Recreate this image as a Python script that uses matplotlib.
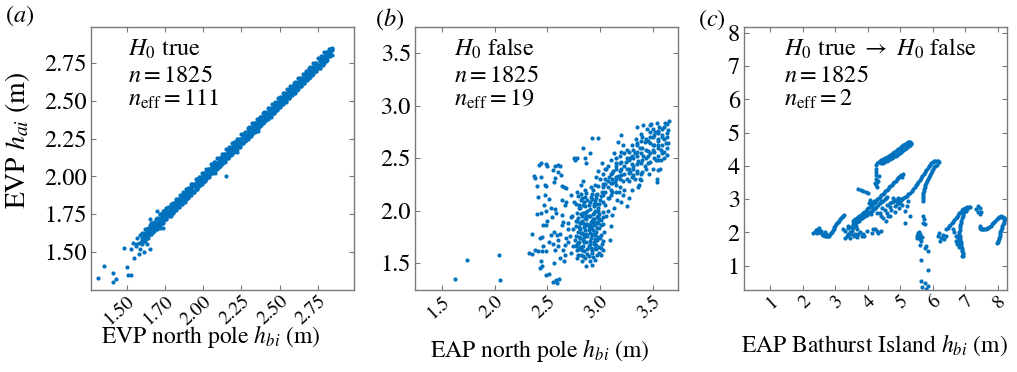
import numpy as np
import matplotlib
matplotlib.use("Agg")
import matplotlib.pyplot as plt

# ---------------- data ----------------
# Panel (a): EVP north pole h_bi vs EVP h_ai -- scattered points and outliers
a_hbi = [
    1.54, 1.56, 1.57, 1.58, 1.59, 1.60, 1.60, 1.61, 1.62, 1.62,
    1.63, 1.64, 1.64, 1.65, 1.66, 1.66, 1.67, 1.68, 1.68, 1.69,
    1.70, 1.70, 1.71, 1.72, 1.72, 1.73, 1.74, 1.74, 1.75, 1.76,
    1.76, 1.77, 1.78, 1.78, 1.79, 1.80, 1.80, 1.81, 1.82, 1.82,
    1.83, 1.84, 1.84, 1.85, 1.86, 1.86, 1.87, 1.88, 1.88, 1.89,
    1.90, 1.90, 1.91, 1.92, 1.92, 1.93, 1.94, 1.94, 1.95, 1.96,
    1.96, 1.97, 1.98, 1.98, 1.99, 2.00, 2.00, 2.01, 2.02, 2.02,
    2.03, 2.04, 2.04, 2.05, 2.06, 2.06, 2.07, 2.08, 2.08, 2.09,
    2.10, 2.10, 2.11, 2.12, 2.12, 2.13, 2.14, 2.14, 2.15, 2.16,
    2.16, 2.17, 2.18, 2.18, 2.19, 2.20, 2.20, 2.21, 2.22, 2.22,
    2.23, 2.24, 2.24, 2.25, 2.26, 2.26, 2.27, 2.28, 2.28, 2.29,
    2.30, 2.30, 2.31, 2.32, 2.32, 2.33, 2.34, 2.34, 2.35, 2.36,
    2.36, 2.37, 2.38, 2.38, 2.39, 2.40, 2.40, 2.41, 2.42, 2.42,
    2.43, 2.44, 2.44, 2.45, 2.46, 2.46, 2.47, 2.48, 2.48, 2.49,
    2.50, 2.50, 2.51, 2.52, 2.52, 2.53, 2.54, 2.54, 2.55, 2.56,
    2.56, 2.57, 2.58, 2.58, 2.59, 2.60, 2.60, 2.61, 2.62, 2.62,
    2.63, 2.64, 2.64, 2.65, 2.66, 2.66, 2.67, 2.68, 2.68, 2.69,
    2.70, 2.70, 2.71, 2.72, 2.72, 2.73, 2.74, 2.74, 2.75, 2.76,
    2.76, 2.77, 2.78, 2.78, 2.79, 2.80, 2.80, 2.81, 2.82, 2.83,
    2.84, 2.83, 1.65, 1.70, 1.72, 1.79, 1.88, 2.22, 2.36, 2.60,
    1.31, 1.35, 1.41, 1.41, 1.43, 1.48, 1.50, 1.51, 1.53, 1.55,
    1.53, 1.59, 1.61, 1.65, 1.56, 1.74, 2.15, 2.08, 1.58, 1.63,
]
a_hai = [
    1.56, 1.55, 1.59, 1.56, 1.61, 1.58, 1.55, 1.62, 1.60, 1.57,
    1.63, 1.61, 1.66, 1.64, 1.62, 1.69, 1.66, 1.64, 1.70, 1.67,
    1.65, 1.72, 1.70, 1.68, 1.75, 1.72, 1.70, 1.77, 1.74, 1.72,
    1.79, 1.76, 1.74, 1.80, 1.78, 1.76, 1.82, 1.80, 1.78, 1.84,
    1.82, 1.80, 1.85, 1.83, 1.82, 1.87, 1.85, 1.84, 1.89, 1.87,
    1.86, 1.91, 1.89, 1.88, 1.93, 1.91, 1.90, 1.95, 1.93, 1.92,
    1.97, 1.95, 1.94, 1.99, 1.97, 1.96, 2.01, 1.99, 1.98, 2.03,
    2.01, 2.00, 2.05, 2.03, 2.02, 2.07, 2.05, 2.04, 2.09, 2.07,
    2.06, 2.11, 2.09, 2.08, 2.13, 2.11, 2.10, 2.15, 2.13, 2.12,
    2.17, 2.15, 2.14, 2.19, 2.17, 2.16, 2.21, 2.19, 2.18, 2.23,
    2.21, 2.20, 2.25, 2.23, 2.22, 2.27, 2.25, 2.24, 2.29, 2.27,
    2.26, 2.31, 2.29, 2.28, 2.33, 2.31, 2.30, 2.35, 2.33, 2.32,
    2.37, 2.35, 2.34, 2.39, 2.37, 2.36, 2.40, 2.39, 2.38, 2.42,
    2.41, 2.40, 2.44, 2.43, 2.42, 2.46, 2.45, 2.44, 2.48, 2.47,
    2.46, 2.50, 2.49, 2.48, 2.52, 2.51, 2.50, 2.54, 2.53, 2.52,
    2.56, 2.55, 2.54, 2.58, 2.57, 2.56, 2.60, 2.59, 2.58, 2.62,
    2.61, 2.60, 2.64, 2.63, 2.62, 2.66, 2.65, 2.64, 2.68, 2.67,
    2.66, 2.70, 2.69, 2.68, 2.72, 2.71, 2.70, 2.74, 2.73, 2.72,
    2.76, 2.75, 2.74, 2.78, 2.77, 2.76, 2.80, 2.79, 2.80, 2.82,
    2.84, 2.84, 1.72, 1.77, 1.66, 1.74, 1.83, 2.16, 2.30, 2.55,
    1.33, 1.41, 1.36, 1.30, 1.32, 1.53, 1.40, 1.35, 1.35, 1.46,
    1.52, 1.52, 1.50, 1.52, 1.54, 1.66, 2.00, 2.02, 1.49, 1.55,
]

# Panel (a): dense band -- h_bi positions and the upper / middle / lower edge h_ai read there
a_band_hbi = [
    1.60, 1.61, 1.62, 1.63, 1.64, 1.65, 1.66, 1.67, 1.68, 1.69,
    1.70, 1.71, 1.72, 1.73, 1.74, 1.75, 1.76, 1.77, 1.78, 1.79,
    1.80, 1.81, 1.82, 1.83, 1.84, 1.85, 1.86, 1.87, 1.88, 1.89,
    1.90, 1.91, 1.92, 1.93, 1.94, 1.95, 1.96, 1.97, 1.98, 1.99,
    2.00, 2.01, 2.02, 2.03, 2.04, 2.05, 2.06, 2.07, 2.08, 2.09,
    2.10, 2.11, 2.12, 2.13, 2.14, 2.15, 2.16, 2.17, 2.18, 2.19,
    2.20, 2.21, 2.22, 2.23, 2.24, 2.25, 2.26, 2.27, 2.28, 2.29,
    2.30, 2.31, 2.32, 2.33, 2.34, 2.35, 2.36, 2.37, 2.38, 2.39,
    2.40, 2.41, 2.42, 2.43, 2.44, 2.45, 2.46, 2.47, 2.48, 2.49,
    2.50, 2.51, 2.52, 2.53, 2.54, 2.55, 2.56, 2.57, 2.58, 2.59,
    2.60, 2.61, 2.62, 2.63, 2.64, 2.65, 2.66, 2.67, 2.68, 2.69,
    2.70, 2.71, 2.72, 2.73, 2.74, 2.75, 2.76, 2.77, 2.78, 2.79,
    2.80, 2.81, 2.82, 2.83, 2.84,
]
a_band_upper = [
    1.625, 1.625, 1.650, 1.650, 1.650, 1.680, 1.680, 1.695, 1.695, 1.720,
    1.725, 1.725, 1.750, 1.750, 1.750, 1.780, 1.780, 1.795, 1.795, 1.820,
    1.825, 1.825, 1.850, 1.850, 1.850, 1.880, 1.880, 1.895, 1.895, 1.920,
    1.925, 1.925, 1.950, 1.950, 1.950, 1.980, 1.980, 1.995, 1.995, 2.020,
    2.025, 2.025, 2.050, 2.050, 2.050, 2.080, 2.080, 2.095, 2.095, 2.120,
    2.125, 2.125, 2.150, 2.150, 2.150, 2.180, 2.180, 2.195, 2.195, 2.220,
    2.225, 2.225, 2.250, 2.250, 2.250, 2.280, 2.280, 2.295, 2.295, 2.320,
    2.325, 2.325, 2.350, 2.350, 2.350, 2.380, 2.380, 2.395, 2.395, 2.420,
    2.425, 2.425, 2.450, 2.450, 2.450, 2.480, 2.480, 2.495, 2.495, 2.520,
    2.525, 2.525, 2.550, 2.550, 2.550, 2.580, 2.580, 2.595, 2.595, 2.620,
    2.625, 2.625, 2.650, 2.650, 2.650, 2.680, 2.680, 2.695, 2.695, 2.720,
    2.725, 2.725, 2.750, 2.750, 2.750, 2.780, 2.780, 2.795, 2.795, 2.820,
    2.825, 2.825, 2.840, 2.845, 2.850,
]
a_band_mid = [
    1.595, 1.610, 1.610, 1.635, 1.635, 1.640, 1.660, 1.665, 1.685, 1.680,
    1.695, 1.710, 1.710, 1.735, 1.735, 1.740, 1.760, 1.765, 1.785, 1.780,
    1.795, 1.810, 1.810, 1.835, 1.835, 1.840, 1.860, 1.865, 1.885, 1.880,
    1.895, 1.910, 1.910, 1.935, 1.935, 1.940, 1.960, 1.965, 1.985, 1.980,
    1.995, 2.010, 2.010, 2.035, 2.035, 2.040, 2.060, 2.065, 2.085, 2.080,
    2.095, 2.110, 2.110, 2.135, 2.135, 2.140, 2.160, 2.165, 2.185, 2.180,
    2.195, 2.210, 2.210, 2.235, 2.235, 2.240, 2.260, 2.265, 2.285, 2.280,
    2.295, 2.310, 2.310, 2.335, 2.335, 2.340, 2.360, 2.365, 2.385, 2.380,
    2.395, 2.410, 2.410, 2.435, 2.435, 2.440, 2.460, 2.465, 2.485, 2.480,
    2.495, 2.510, 2.510, 2.535, 2.535, 2.540, 2.560, 2.565, 2.585, 2.580,
    2.595, 2.610, 2.610, 2.635, 2.635, 2.640, 2.660, 2.665, 2.685, 2.680,
    2.695, 2.710, 2.710, 2.735, 2.735, 2.740, 2.760, 2.765, 2.785, 2.780,
    2.795, 2.810, 2.810, 2.830, 2.835,
]
a_band_lower = [
    1.570, 1.570, 1.595, 1.595, 1.595, 1.620, 1.620, 1.635, 1.655, 1.650,
    1.670, 1.670, 1.695, 1.695, 1.695, 1.720, 1.720, 1.735, 1.755, 1.750,
    1.770, 1.770, 1.795, 1.795, 1.795, 1.820, 1.820, 1.835, 1.855, 1.850,
    1.870, 1.870, 1.895, 1.895, 1.895, 1.920, 1.920, 1.935, 1.955, 1.950,
    1.970, 1.970, 1.995, 1.995, 1.995, 2.020, 2.020, 2.035, 2.055, 2.050,
    2.070, 2.070, 2.095, 2.095, 2.095, 2.120, 2.120, 2.135, 2.155, 2.150,
    2.170, 2.170, 2.195, 2.195, 2.195, 2.220, 2.220, 2.235, 2.255, 2.250,
    2.270, 2.270, 2.295, 2.295, 2.295, 2.320, 2.320, 2.335, 2.355, 2.350,
    2.370, 2.370, 2.395, 2.395, 2.395, 2.420, 2.420, 2.435, 2.455, 2.450,
    2.470, 2.470, 2.495, 2.495, 2.495, 2.520, 2.520, 2.535, 2.555, 2.550,
    2.570, 2.570, 2.595, 2.595, 2.595, 2.620, 2.620, 2.635, 2.655, 2.650,
    2.670, 2.670, 2.695, 2.695, 2.695, 2.720, 2.720, 2.735, 2.755, 2.750,
    2.770, 2.770, 2.795, 2.795, 2.800,
]

# Panel (b): EAP north pole h_bi vs EVP h_ai
b_hbi = [
    1.63, 1.74, 2.04, 2.05,
    2.37, 2.38, 2.42, 2.44, 2.49, 2.50, 2.55, 2.57, 2.60, 2.62,
    2.63, 2.60, 2.57, 2.56, 2.49, 2.48, 2.44, 2.64, 2.66, 2.68,
    2.75, 2.48, 2.47, 2.49, 2.53, 2.54, 2.57, 2.44, 2.46, 2.49,
    2.35, 2.43, 2.45, 2.53, 2.56, 2.59, 2.60, 2.64, 2.65, 2.64,
    2.67, 2.68, 2.72, 2.35, 2.38, 2.41, 2.45, 2.49, 2.44, 2.43,
    2.49, 2.52, 2.56, 2.55, 2.58, 2.61, 2.57, 2.60, 2.65, 2.67,
    2.70, 2.67, 2.62, 2.59, 2.40, 2.41, 2.40, 2.33, 2.45, 2.52,
    2.78, 2.80, 2.82, 2.84, 2.85, 2.86, 2.88, 2.90, 2.92, 2.94,
    2.95, 2.97, 2.99, 3.00, 3.02, 2.79, 2.81, 2.83, 2.85, 2.87,
    2.89, 2.91, 2.93, 2.95, 2.97, 2.99, 3.01, 3.03, 2.80, 2.82,
    2.84, 2.86, 2.88, 2.90, 2.92, 2.94, 2.96, 2.98, 3.00, 3.02,
    2.76, 2.77, 2.78, 2.87, 2.89, 2.93, 2.96, 3.04, 2.88, 2.92,
    2.86, 2.94, 2.90, 2.84, 2.81, 2.98, 3.05, 3.06, 2.72, 2.74,
    2.73, 2.75, 2.71, 2.70, 2.96, 3.01, 2.91, 2.86, 2.95, 3.08,
    2.83, 2.90, 2.95, 3.03, 3.09, 3.10, 2.92, 2.87,
    3.05, 3.08, 3.10, 3.12, 3.14, 3.15, 3.17, 3.19, 3.20, 3.22,
    3.24, 3.25, 3.27, 3.28, 3.30, 3.31, 3.33, 3.34, 3.36, 3.38,
    3.39, 3.41, 3.42, 3.44, 3.45, 3.47, 3.48, 3.50, 3.52, 3.53,
    3.55, 3.56, 3.58, 3.59, 3.61, 3.62, 3.64, 3.65, 3.60, 3.57,
    3.54, 3.50, 3.46, 3.42, 3.38, 3.36, 3.33, 3.30, 3.27, 3.25,
    3.22, 3.20, 3.18, 3.16, 3.13, 3.11, 3.07, 3.06, 3.10, 3.13,
    3.17, 3.20, 3.22, 3.00, 2.98, 3.02, 2.96, 2.86, 2.90, 2.87,
    2.78, 2.76, 2.84, 2.82, 2.92, 2.98, 2.84, 3.35, 3.41, 3.47,
    3.54, 3.64, 3.63, 3.58, 3.55, 3.54, 3.40, 3.39, 3.37, 3.28,
]
b_hai = [
    1.35, 1.53, 1.58, 1.34,
    2.33, 2.31, 2.43, 2.45, 2.44, 2.42, 2.39, 2.42, 2.43, 2.42,
    2.34, 2.37, 2.31, 2.27, 2.23, 2.24, 2.32, 2.23, 2.22, 2.21,
    2.50, 2.15, 2.05, 2.00, 2.02, 1.94, 2.01, 1.98, 1.86, 1.86,
    1.78, 1.74, 1.75, 1.77, 1.80, 1.77, 1.72, 1.86, 1.89, 1.96,
    2.05, 2.08, 2.15, 1.59, 1.62, 1.61, 1.61, 1.61, 1.52, 1.45,
    1.39, 1.40, 1.50, 1.32, 1.34, 1.35, 1.62, 1.66, 1.62, 1.67,
    1.70, 1.58, 1.55, 1.31, 2.23, 2.13, 1.97, 1.60, 1.47, 2.11,
    1.62, 1.70, 1.58, 1.66, 1.75, 1.55, 1.63, 1.71, 1.60, 1.68,
    1.77, 1.58, 1.65, 1.74, 1.68, 1.80, 1.88, 1.95, 1.84, 1.92,
    1.81, 1.89, 1.97, 1.86, 1.94, 1.83, 1.91, 1.99, 2.02, 2.10,
    2.05, 2.13, 2.00, 2.08, 2.16, 2.04, 2.12, 2.02, 2.10, 2.18,
    1.72, 1.90, 1.98, 1.70, 1.57, 1.78, 1.72, 1.80, 1.87, 1.85,
    1.98, 1.92, 1.95, 1.78, 1.65, 1.88, 2.05, 1.95, 1.60, 1.82,
    1.95, 2.08, 1.76, 1.88, 1.63, 1.58, 2.22, 2.20, 2.24, 2.12,
    1.52, 1.52, 1.53, 1.71, 1.72, 1.85, 1.48, 1.47,
    2.25, 2.32, 2.20, 2.38, 2.27, 2.45, 2.33, 2.52, 2.40, 2.28,
    2.46, 2.58, 2.36, 2.50, 2.62, 2.42, 2.55, 2.68, 2.47, 2.60,
    2.73, 2.52, 2.65, 2.78, 2.57, 2.70, 2.82, 2.62, 2.75, 2.48,
    2.68, 2.80, 2.58, 2.72, 2.83, 2.64, 2.77, 2.85, 2.50, 2.40,
    2.30, 2.40, 2.35, 2.42, 2.30, 2.22, 2.30, 2.20, 2.12, 2.04,
    2.15, 2.08, 2.18, 2.10, 2.02, 1.96, 2.00, 2.40, 2.48, 2.55,
    2.65, 2.72, 2.62, 2.30, 2.38, 2.45, 2.32, 2.50, 2.55, 2.45,
    2.50, 2.48, 2.28, 2.24, 2.69, 2.69, 2.60, 2.80, 2.81, 2.81,
    2.83, 2.64, 2.53, 2.48, 2.39, 2.27, 2.37, 2.29, 2.24, 2.37,
]
# Panel (b): extra points of the dense core, the rising band and the sparse left cloud
b_core_hbi = [
    2.77, 2.79, 2.81, 2.83, 2.85, 2.87, 2.89, 2.91, 2.93, 2.95, 2.97, 2.99, 3.01, 3.03,
    2.77, 2.79, 2.81, 2.83, 2.85, 2.87, 2.89, 2.91, 2.93, 2.95, 2.97, 2.99, 3.01, 3.03,
    2.77, 2.79, 2.81, 2.83, 2.85, 2.87, 2.89, 2.91, 2.93, 2.95, 2.97, 2.99, 3.01, 3.03,
    2.77, 2.79, 2.81, 2.83, 2.85, 2.87, 2.89, 2.91, 2.93, 2.95, 2.97, 2.99, 3.01, 3.03,
    3.03, 3.07, 3.11, 3.15, 3.19, 3.23, 3.27, 3.31, 3.35, 3.39, 3.43, 3.47, 3.51, 3.55, 3.59, 3.63,
    3.03, 3.07, 3.11, 3.15, 3.19, 3.23, 3.27, 3.31, 3.35, 3.39, 3.43, 3.47, 3.51, 3.55, 3.59, 3.63,
    3.03, 3.07, 3.11, 3.15, 3.19, 3.23, 3.27, 3.31, 3.35, 3.39, 3.43, 3.47, 3.51, 3.55, 3.59, 3.63,
    3.03, 3.07, 3.11, 3.15, 3.19, 3.23, 3.27, 3.31, 3.35, 3.39, 3.43, 3.47, 3.51, 3.55, 3.59, 3.63,
    2.78, 2.80, 2.82, 2.84, 2.86, 2.88, 2.90, 2.92, 2.94, 2.96, 2.98,
    2.78, 2.80, 2.82, 2.84, 2.86, 2.88, 2.90, 2.92, 2.94, 2.96, 2.98,
    2.78, 2.80, 2.82, 2.84, 2.86, 2.88, 2.90, 2.92, 2.94, 2.96, 2.98,
    2.78, 2.80, 2.82, 2.84, 2.86, 2.88, 2.90, 2.92, 2.94, 2.96, 2.98,
    3.05, 3.10, 3.15, 3.20, 3.25, 3.30, 3.35, 3.40, 3.45, 3.50, 3.55, 3.60,
    3.05, 3.10, 3.15, 3.20, 3.25, 3.30, 3.35, 3.40, 3.45, 3.50, 3.55, 3.60,
    3.05, 3.10, 3.15, 3.20, 3.25, 3.30, 3.35, 3.40, 3.45, 3.50, 3.55, 3.60,
    2.50, 2.55, 2.62, 2.66, 2.70, 2.58, 2.52, 2.46, 2.64, 2.72, 2.68, 2.74,
]
b_core_hai = [
    1.66, 1.58, 1.74, 1.62, 1.70, 1.78, 1.66, 1.74, 1.56, 1.64, 1.72, 1.60, 1.77, 1.62,
    1.85, 1.93, 1.82, 1.90, 1.98, 1.87, 1.95, 1.83, 1.92, 2.00, 1.89, 1.97, 1.86, 1.94,
    2.06, 2.14, 2.02, 2.12, 2.08, 2.17, 2.05, 2.13, 2.20, 2.09, 2.16, 2.06, 2.14, 2.22,
    1.76, 1.69, 1.88, 1.79, 1.61, 1.94, 1.84, 1.64, 1.81, 1.73, 1.83, 1.92, 1.64, 1.87,
    2.35, 2.42, 2.30, 2.50, 2.45, 2.55, 2.48, 2.58, 2.62, 2.55, 2.68, 2.64, 2.72, 2.76, 2.70, 2.82,
    2.15, 2.22, 2.26, 2.18, 2.30, 2.35, 2.28, 2.40, 2.38, 2.45, 2.50, 2.46, 2.56, 2.60, 2.55, 2.70,
    2.25, 2.12, 2.36, 2.40, 2.22, 2.42, 2.56, 2.34, 2.52, 2.66, 2.40, 2.75, 2.50, 2.66, 2.78, 2.60,
    2.08, 2.28, 2.18, 2.30, 2.38, 2.20, 2.40, 2.50, 2.44, 2.35, 2.58, 2.55, 2.62, 2.48, 2.62, 2.74,
    1.68, 1.75, 1.64, 1.72, 1.81, 1.59, 1.68, 1.77, 1.70, 1.80, 1.75,
    1.90, 1.84, 1.97, 1.88, 1.93, 1.76, 2.01, 1.90, 1.98, 2.06, 1.95,
    2.18, 2.05, 2.16, 1.98, 2.04, 2.10, 1.86, 2.11, 2.06, 2.15, 2.23,
    1.55, 1.63, 1.79, 1.57, 1.86, 1.95, 1.79, 1.62, 1.88, 1.67, 2.00,
    2.30, 2.35, 2.32, 2.46, 2.40, 2.52, 2.56, 2.60, 2.66, 2.70, 2.74, 2.80,
    2.18, 2.26, 2.42, 2.34, 2.50, 2.44, 2.36, 2.48, 2.52, 2.58, 2.62, 2.68,
    2.40, 2.15, 2.24, 2.56, 2.30, 2.32, 2.64, 2.70, 2.45, 2.78, 2.52, 2.56,
    1.90, 1.68, 1.78, 1.52, 1.82, 1.98, 1.70, 1.66, 2.10, 1.94, 1.74, 1.66,
]

# Panel (c): EAP Bathurst Island h_bi vs EVP h_ai
c_hbi = [
    4.30, 4.38, 4.46, 4.54, 4.62, 4.70, 4.78, 4.86, 4.94, 5.02,
    5.10, 5.17, 5.24, 5.30, 5.34, 5.30, 5.22, 5.14, 5.06, 4.98,
    4.90, 4.82, 4.74, 4.66, 4.58, 4.50, 4.42,
    4.25, 4.26, 4.24, 4.27, 4.25, 4.28, 4.26, 4.30, 4.32, 4.34, 4.22,
    3.55, 3.62, 3.70, 3.78, 3.86, 3.94, 4.02, 4.10, 4.18, 4.26,
    4.34, 4.42, 4.50, 4.58, 4.66, 4.74, 4.82, 4.90, 4.97, 5.03,
    5.07, 5.05,
    3.62, 3.72, 3.82, 3.92, 4.02, 4.12, 4.22, 4.32, 4.42, 4.52, 4.60,
    4.70, 4.80, 4.90, 5.00, 5.10, 5.20, 5.30, 5.40, 5.48, 5.56,
    5.64, 5.72, 5.80, 5.88, 5.96, 6.04, 6.12, 6.18,
    6.12, 6.04, 5.97, 5.90, 5.84, 5.79, 5.75, 5.72, 5.70, 5.70, 5.69,
    5.70, 5.72, 5.70, 5.75, 5.55, 5.60, 5.50, 5.58, 5.65, 5.62,
    5.75, 5.86, 5.78, 5.65, 5.86, 5.65, 5.76, 5.86, 5.68, 5.80,
    5.55, 5.52, 5.57, 5.60, 5.68,
    6.42, 6.50, 6.58, 6.66, 6.74, 6.82, 6.90, 6.98, 7.06, 7.13,
    7.05, 6.97, 6.92, 6.88, 6.85, 6.83, 6.82, 6.84, 6.86, 6.88,
    6.90, 6.92, 6.94, 6.90,
    6.78, 6.80, 6.75, 6.72, 6.83, 6.79, 6.76, 6.70, 6.66, 6.62,
    6.16, 6.25, 6.30, 6.35, 6.40, 6.22, 6.20,
    7.32, 7.38, 7.44, 7.49, 7.46, 7.40,
    7.44, 7.48, 7.55, 7.62, 7.70, 7.78, 7.85, 7.92, 7.99, 8.06,
    8.12, 8.18, 8.22, 8.18, 8.14, 8.10, 8.07, 8.04, 8.01, 7.98,
    2.33, 2.40, 2.47, 2.54, 2.60, 2.64, 2.70, 2.76, 2.80, 2.86,
    2.92, 2.98, 3.04, 3.10, 3.16, 3.22, 3.26, 2.50, 2.58, 2.45,
    2.72, 2.68,
    3.25, 3.30, 3.40, 3.45, 3.50, 3.61, 3.71, 3.81, 3.45, 3.30,
    3.66, 3.97, 4.12, 4.22, 4.32, 4.28, 3.56, 3.61, 3.38, 3.52,
    3.58, 3.68, 3.75, 3.85, 3.40, 3.35, 3.48, 3.90, 4.40, 4.15,
    3.65, 3.55,
    3.71, 3.86, 4.02, 3.78, 3.94, 4.07, 4.05, 4.12, 4.20, 4.42,
    4.53, 4.37, 4.48, 4.63, 4.73, 4.83, 4.89, 4.99, 4.78, 5.14,
    5.24, 5.29, 5.14, 4.30, 4.45, 4.60, 4.70, 4.85, 4.95, 5.05,
    4.40, 4.55, 4.90, 4.20, 4.10, 5.02, 4.93, 4.58, 4.68, 5.20,
]
c_hai = [
    4.08, 4.15, 4.20, 4.24, 4.28, 4.33, 4.38, 4.44, 4.50, 4.56,
    4.62, 4.67, 4.71, 4.73, 4.70, 4.64, 4.58, 4.52, 4.46, 4.40,
    4.34, 4.29, 4.25, 4.20, 4.16, 4.12, 4.08,
    4.02, 3.92, 3.82, 3.72, 3.62, 3.52, 3.44, 3.36, 3.55, 3.70, 3.50,
    2.36, 2.42, 2.48, 2.54, 2.60, 2.66, 2.73, 2.80, 2.88, 2.96,
    3.04, 3.12, 3.20, 3.28, 3.36, 3.44, 3.52, 3.60, 3.67, 3.73,
    3.76, 3.68,
    2.30, 2.36, 2.43, 2.50, 2.58, 2.66, 2.74, 2.83, 2.92, 3.00, 3.07,
    2.90, 2.95, 2.98, 3.00, 3.03, 3.10, 3.20, 3.30, 3.42, 3.52,
    3.64, 3.76, 3.88, 3.99, 4.08, 4.14, 4.16, 4.12,
    4.04, 3.96, 3.86, 3.74, 3.62, 3.50, 3.38, 3.26, 3.14, 3.02, 2.94,
    2.49, 2.42, 2.30, 2.24, 1.99, 1.95, 1.84, 1.88, 1.73, 1.62,
    1.53, 1.43, 1.58, 1.18, 0.88, 0.53, 0.48, 0.38, 0.36, 0.30,
    1.95, 1.90, 2.00, 1.80, 1.85,
    2.09, 2.18, 2.28, 2.38, 2.48, 2.58, 2.67, 2.73, 2.77, 2.77,
    2.70, 2.62, 2.50, 2.36, 2.22, 2.08, 1.96, 1.84, 1.72, 1.60,
    1.48, 1.38, 1.30, 1.28,
    1.70, 1.62, 1.66, 1.74, 1.68, 1.56, 1.82, 1.90, 2.02, 2.10,
    1.89, 1.82, 1.92, 1.80, 1.88, 1.75, 1.98,
    2.72, 2.80, 2.74, 2.62, 2.55, 2.62,
    2.19, 2.10, 2.09, 2.11, 2.14, 2.20, 2.28, 2.36, 2.43, 2.48,
    2.48, 2.45, 2.40, 2.30, 2.20, 2.08, 1.96, 1.84, 1.74, 1.68,
    1.99, 2.06, 2.09, 2.00, 1.95, 1.92, 1.90, 1.88, 1.90, 1.98,
    2.06, 2.15, 2.24, 2.31, 2.40, 2.47, 2.52, 2.12, 2.05, 1.98,
    1.95, 2.00,
    2.09, 2.05, 1.94, 2.00, 1.95, 1.94, 1.96, 1.89, 1.84, 1.84,
    2.09, 2.04, 1.99, 2.09, 1.99, 2.04, 2.24, 2.39, 2.12, 2.05,
    1.88, 1.86, 2.02, 1.95, 2.20, 1.90, 2.15, 1.88, 2.05, 2.10,
    2.18, 2.12,
    3.30, 3.24, 3.20, 3.28, 3.22, 2.99, 2.90, 2.89, 2.95, 2.94,
    2.69, 2.59, 2.44, 2.49, 2.69, 2.79, 2.94, 2.89, 3.05, 2.64,
    2.94, 2.49, 2.29, 2.60, 2.75, 2.60, 2.50, 2.62, 2.75, 2.82,
    2.50, 2.35, 2.85, 2.70, 2.55, 2.98, 3.05, 2.84, 2.78, 2.80,
]
# Panel (c): further points read along the curved strands
c_strand_hbi = [
    4.34, 4.42, 4.50, 4.58, 4.66, 4.74, 4.82, 4.90, 4.98, 5.06, 5.14, 5.21, 5.27, 5.33,
    5.26, 5.18, 5.10, 5.02, 4.94, 4.86, 4.78, 4.70, 4.62, 4.54, 4.46,
    3.58, 3.66, 3.74, 3.82, 3.90, 3.98, 4.06, 4.14, 4.22, 4.30, 4.38, 4.46, 4.54, 4.62,
    4.70, 4.78, 4.86, 4.94, 5.00,
    5.05, 5.15, 5.25, 5.35, 5.44, 5.52, 5.60, 5.68, 5.76, 5.84, 5.92, 6.00, 6.08, 6.16,
    6.08, 6.00, 5.93, 5.87, 5.81, 5.77, 5.73, 5.71, 5.70,
    6.46, 6.54, 6.62, 6.70, 6.78, 6.86, 6.94, 7.02, 7.10,
    7.01, 6.94, 6.90, 6.86, 6.84, 6.82, 6.83, 6.85, 6.87, 6.89, 6.91, 6.93,
    7.46, 7.52, 7.58, 7.66, 7.74, 7.82, 7.88, 7.96, 8.02, 8.09, 8.15, 8.20, 8.20, 8.16,
    8.12, 8.08, 8.05, 8.02, 7.99,
    2.37, 2.44, 2.50, 2.57, 2.62, 2.67, 2.73, 2.78, 2.83, 2.89, 2.95, 3.01, 3.07, 3.13,
    3.19, 3.24,
    3.67, 3.77, 3.87, 3.97, 4.07, 4.17, 4.27, 4.37, 4.47, 4.56,
    4.75, 4.85, 4.95,
]
c_strand_hai = [
    4.12, 4.18, 4.22, 4.26, 4.30, 4.36, 4.41, 4.47, 4.53, 4.59, 4.65, 4.69, 4.72, 4.67,
    4.61, 4.55, 4.49, 4.43, 4.37, 4.31, 4.27, 4.22, 4.18, 4.14, 4.10,
    2.39, 2.45, 2.51, 2.57, 2.63, 2.70, 2.77, 2.84, 2.92, 3.00, 3.08, 3.16, 3.24, 3.32,
    3.40, 3.48, 3.56, 3.64, 3.70,
    3.01, 3.06, 3.15, 3.25, 3.36, 3.47, 3.58, 3.70, 3.82, 3.94, 4.04, 4.11, 4.16, 4.15,
    4.00, 3.91, 3.80, 3.68, 3.56, 3.44, 3.32, 3.20, 3.08,
    2.13, 2.23, 2.33, 2.43, 2.53, 2.63, 2.70, 2.75, 2.78,
    2.66, 2.56, 2.43, 2.29, 2.15, 2.02, 1.90, 1.78, 1.66, 1.54, 1.43, 1.34,
    2.14, 2.09, 2.10, 2.12, 2.17, 2.24, 2.32, 2.40, 2.46, 2.49, 2.47, 2.43, 2.35, 2.25,
    2.14, 2.02, 1.90, 1.79, 1.71,
    2.02, 2.08, 2.05, 1.97, 1.93, 1.91, 1.89, 1.89, 1.94, 2.02, 2.10, 2.19, 2.28, 2.35,
    2.44, 2.50,
    2.33, 2.40, 2.46, 2.54, 2.62, 2.70, 2.78, 2.88, 2.96, 3.04,
    2.92, 2.97, 2.99,
]

a_ticks = [1.50, 1.75, 2.00, 2.25, 2.50, 2.75]
a_xticklabels = ["1.50", "1.70", "2.00", "2.25", "2.50", "2.75"]
a_yticklabels = ["1.50", "1.75", "2.00", "2.25", "2.50", "2.75"]
b_ticks = [1.5, 2.0, 2.5, 3.0, 3.5]
b_ticklabels = ["1.5", "2.0", "2.5", "3.0", "3.5"]
c_ticks = [1, 2, 3, 4, 5, 6, 7, 8]
c_ticklabels = ["1", "2", "3", "4", "5", "6", "7", "8"]

panel_tags = ["($a$)", "($b$)", "($c$)"]
annot_titles = ["$H_0$ true", "$H_0$ false", r"$H_0$ true $\rightarrow$ $H_0$ false"]
annot_n = ["$n = 1825$", "$n = 1825$", "$n = 1825$"]
annot_neff = [r"$n_{\mathrm{eff}} = 111$", r"$n_{\mathrm{eff}} = 19$", r"$n_{\mathrm{eff}} = 2$"]
xlabels = [r"EVP north pole $h_{bi}$ (m)", r"EAP north pole $h_{bi}$ (m)",
           r"EAP Bathurst Island $h_{bi}$ (m)"]
ylabel_a = r"EVP $h_{ai}$ (m)"

# ---------------- style ----------------
plt.rcParams["font.family"] = ["STIXGeneral", "DejaVu Serif"]
plt.rcParams["mathtext.fontset"] = "stix"
FS_YTICK = 17.5
FS_XTICK = 14
FS_TXT = 17.5
FS_LAB = 17
FS_YLAB = 20
BLUE = "#0072BD"
FRAME = "#7a7a7a"
MS = 9

W, H = 1017, 372
fig = plt.figure(figsize=(W / 100, H / 100), dpi=100)

def px_axes(left, top, right, bottom):
    return fig.add_axes([left / W, 1 - bottom / H, (right - left) / W, (bottom - top) / H])

axa = px_axes(91, 27, 354, 290)
axb = px_axes(415, 27, 678, 290)
axc = px_axes(744, 27, 1007, 290)

a_x = np.concatenate([a_hbi, a_band_hbi, a_band_hbi, a_band_hbi])
a_y = np.concatenate([a_hai, a_band_upper, a_band_mid, a_band_lower])
b_x = np.concatenate([b_hbi, b_core_hbi])
b_y = np.concatenate([b_hai, b_core_hai])
c_x = np.concatenate([c_hbi, c_strand_hbi])
c_y = np.concatenate([c_hai, c_strand_hai])

setups = [
    (axa, a_x, a_y, (1.267, 2.985), (1.249, 2.988), a_ticks, a_xticklabels, a_ticks, a_yticklabels),
    (axb, b_x, b_y, (1.247, 3.737), (1.243, 3.748), b_ticks, b_ticklabels, b_ticks, b_ticklabels),
    (axc, c_x, c_y, (0.20, 8.28), (0.27, 8.18), c_ticks, c_ticklabels, c_ticks, c_ticklabels),
]

for ax, xs, ys, xl, yl, xt, xtl, yt, ytl in setups:
    ax.scatter(xs, ys, s=MS, color=BLUE, linewidths=0)
    ax.set_xlim(*xl)
    ax.set_ylim(*yl)
    ax.set_xticks(xt)
    ax.set_xticklabels(xtl, rotation=42, ha="right", va="top", rotation_mode="anchor")
    ax.set_yticks(yt)
    ax.set_yticklabels(ytl)
    ax.tick_params(direction="in", length=3.5, width=0.8, color=FRAME,
                   top=True, right=True, pad=3)
    ax.tick_params(axis="y", labelsize=FS_YTICK)
    ax.tick_params(axis="x", labelsize=FS_XTICK, pad=2)
    for sp in ax.spines.values():
        sp.set_color(FRAME)
        sp.set_linewidth(1.0)

# annotations (baseline positions in pixels)
ann_left = [128, 454, 784]
for i, x0 in enumerate(ann_left):
    fig.text(x0 / W, 1 - 56 / H, annot_titles[i], fontsize=FS_TXT, va="baseline", ha="left")
    fig.text(x0 / W, 1 - 82 / H, annot_n[i], fontsize=FS_TXT, va="baseline", ha="left")
    fig.text(x0 / W, 1 - 106 / H, annot_neff[i], fontsize=FS_TXT, va="baseline", ha="left")

# panel tags
tag_pos = [(20, 16), (390, 19), (712, 20)]
for t, (x0, y0) in zip(panel_tags, tag_pos):
    fig.text(x0 / W, 1 - y0 / H, t, fontsize=FS_TXT, ha="center", va="center")

# axis labels
xlab_pos = [(211, 343), (540, 357), (874, 352)]
for t, (x0, y0) in zip(xlabels, xlab_pos):
    fig.text(x0 / W, 1 - y0 / H, t, fontsize=FS_LAB, ha="center", va="baseline")
fig.text(18 / W, 1 - 140 / H, ylabel_a, fontsize=FS_YLAB, ha="center", va="center", rotation=90)

fig.savefig("out.png", dpi=100)
